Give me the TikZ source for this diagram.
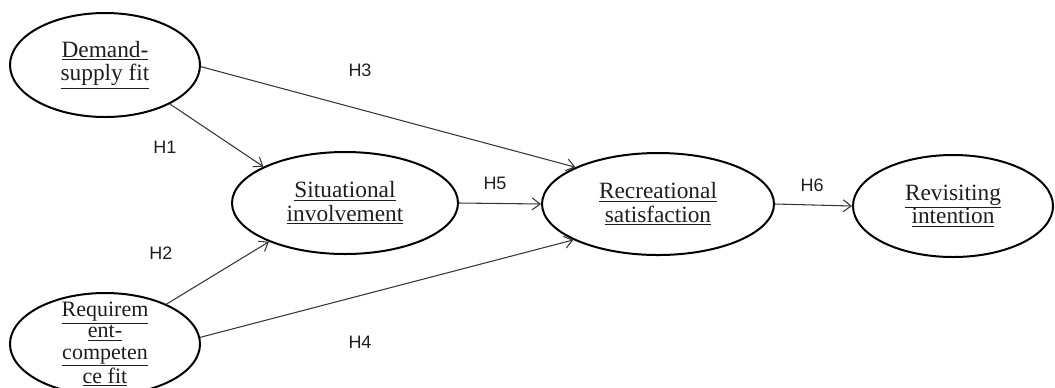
\documentclass[tikz,border=0pt]{standalone}
\usepackage{fontspec}
\setmainfont{Liberation Serif}
\newfontfamily\hypfont{Liberation Sans}
\usetikzlibrary{shapes.geometric, arrows.meta}
\definecolor{linegray}{RGB}{55,55,55}
\definecolor{textgray}{RGB}{30,30,30}
\newcommand{\uln}[1]{\underline{#1}}
\begin{document}
\begin{tikzpicture}[x=0.75pt, y=-0.75pt,
        >={Straight Barb[length=6pt,width=9pt]},   % offene Pfeilspitzen
        construct/.style={ellipse, draw, line width=1.5pt, inner sep=-14pt, align=center,
            text=textgray, font=\fontsize{17.5}{17.5}\selectfont, minimum height=76.5pt},
        hyp/.style={font=\hypfont\fontsize{13.5}{16}\selectfont, text=textgray},
        link/.style={->, draw=linegray, line width=0.8pt}]
        % Rahmen
        \useasboundingbox (0,0) rectangle (1055,387);
        % Konstrukte
        \node[construct, minimum width=142.5pt, minimum height=78pt] (dsf) at (105,65) {\uln{Demand-}\\\uln{supply fit}};
        \node[construct, minimum width=142.5pt, font=\fontsize{16.5}{16}\selectfont] (rcf) at (105,344) {\uln{Requirem}\\\uln{ent-}\\\uln{competen}\\\uln{ce fit}};
        \node[construct, minimum width=169.5pt] (si) at (345,203) {\uln{Situational}\\\uln{involvement}};
        \node[construct, minimum width=174pt] (rs) at (658,204) {\uln{Recreational}\\\uln{satisfaction}};
        \node[construct, minimum width=150pt] (ri) at (953,206) {\uln{Revisiting}\\\uln{intention}};
        % Pfade
        \draw[link] (dsf.-31) -- (si.156);
        \draw[link] (dsf.-1) -- (rs.156);
        \draw[link] (rcf.33) -- (si.207);
        \draw[link] (rcf.4) -- (rs.203);
        \draw[link] (si.east) -- (rs.west);
        \draw[link] (rs.east) -- (ri.west);
        % Hypothesen
        \node[hyp] (h1) at (165,147) {H1};
        \node[hyp] (h2) at (161,253) {H2};
        \node[hyp] (h3) at (360,70) {H3};
        \node[hyp] (h4) at (360,342) {H4};
        \node[hyp] (h5) at (495,183) {H5};
        \node[hyp] (h6) at (812,185) {H6};
    \end{tikzpicture}
\end{document}
